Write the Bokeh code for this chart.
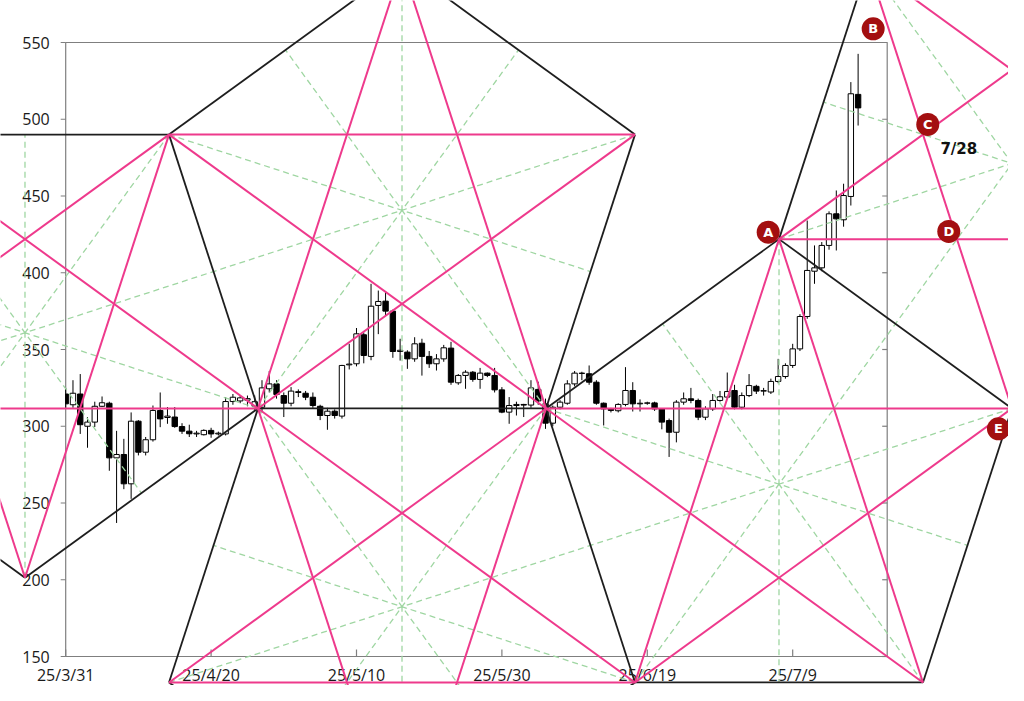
import numpy as np
from bokeh.plotting import figure
from bokeh.models import Range1d
from bokeh.core.properties import value
from bokeh.embed import file_html
from bokeh.resources import INLINE

# ---------------- candle data (day index from 2025-03-31) ----------------
opens = [321, 314, 321, 300, 302.7, 313, 315, 279.4, 281.6, 262.5,
         303.3, 283.1, 291.2, 310.3, 305.7, 306, 299.8, 296.8, 295, 294.5,
         297.3, 295, 295, 316.1, 316.5, 317, 313, 312.4, 324.4, 327.6,
         320, 315, 322.5, 321.5, 318.9, 313, 307, 309.8, 306.6, 340,
         340.7, 359.6, 345.5, 378.7, 381.5, 375, 348.7, 348.3, 343.9, 354.1,
         345.5, 340.7, 343.9, 350.9, 328.3, 333.1, 335.2, 330.5, 334.6, 333.1,
         323.7, 309.2, 313.5, 314.2, 313.8, 324, 314.6, 302, 312.4, 315,
         327.6, 334.6, 334.2, 328.7, 315, 311.3, 310.1, 314.2, 323.3, 314.6,
         315, 315.2, 311.3, 303.7, 296.1, 315.7, 317.9, 316.8, 305.9, 311.3,
         316.8, 319, 323.3, 312.4, 320, 326, 322.9, 322.3, 329.2, 332.4,
         339.6, 350.4, 371.5, 401, 403.2, 417.8, 438.4, 434.5, 449.7, 516.2]
highs = [325, 330, 334, 306, 316, 319.4, 316, 297, 291.8, 309,
         304, 293, 313.5, 322, 312.5, 312.5, 302, 301, 297, 298,
         299, 296.5, 319, 321, 320, 320, 320, 330, 336, 330,
         322, 325.5, 324, 323, 322, 314, 312, 311, 340, 353.7,
         364, 361, 392.8, 388.4, 388, 376, 357, 349.5, 358, 357,
         349, 347, 353, 355, 334, 336.5, 336, 338, 335, 338,
         325.5, 319, 316, 314.6, 330, 329, 318, 313.5, 317, 330,
         336, 335.5, 339.6, 330, 315.5, 312, 315, 338.5, 328.7, 317.5,
         316, 316, 311.5, 305, 317, 322, 325, 318, 313, 321,
         323, 335, 327, 322, 334, 327, 325, 331, 343.9, 341,
         353.7, 373, 434, 417.8, 420, 440, 453.6, 458, 524.2, 542.6]
lows = [312, 312, 295, 286, 299.5, 312.5, 271, 237, 259, 252.7,
        281, 281, 290, 299.4, 301.6, 299, 295, 293, 293, 294,
        292.5, 294, 294, 314, 315, 313, 310, 309, 322, 318,
        306, 313, 319, 317, 312, 304, 297.7, 305, 305, 337,
        339, 341, 343, 360, 372, 344.6, 342.8, 337.4, 342, 333,
        338, 336.3, 342, 327, 327, 324.4, 329, 324.4, 332, 322,
        308.5, 301.6, 307, 306, 312, 314, 298.3, 300, 311, 314,
        326, 330, 327, 314, 300.5, 309, 309, 313, 309.6, 309.6,
        314, 310, 298, 280, 289.5, 314, 315, 304, 304, 310,
        316, 318, 311, 311, 319, 321, 320, 321, 328, 331,
        338, 349, 370, 392.8, 401, 415, 414.5, 430, 443.8, 495.9]
closes = [314.6, 321.5, 301, 302.7, 313, 315.3, 279.4, 281.6, 262.5, 303.3,
          283.1, 291.2, 310.3, 304.8, 306.6, 299.8, 296.8, 295.1, 295.5, 297.3,
          295, 295.5, 316.1, 318.9, 318.5, 318, 316, 325, 327.6, 320.7,
          315, 322.9, 322, 318.9, 313.5, 307, 309.8, 307, 339.6, 340.5,
          360.2, 346.1, 378.2, 381.3, 375, 348.7, 349.5, 343.9, 353.7, 345.5,
          340.7, 343.9, 351.1, 328.7, 333.1, 335.2, 330.5, 334.6, 333.1, 323.7,
          309.2, 313.5, 314.2, 313.8, 325, 316.5, 302, 312.4, 315.7, 327.6,
          334.6, 334.4, 328.7, 315, 311.3, 310.3, 314.2, 323.3, 314.6, 315,
          315.2, 311.3, 302.7, 296.1, 315.7, 317.9, 316.8, 305.9, 311.3, 316.8,
          319.2, 322.6, 312.4, 320, 326.5, 322.9, 323.2, 329.2, 332.4, 339.6,
          350.4, 371.5, 401.5, 403.2, 417.8, 438.4, 435.1, 450.3, 516.6, 507.4]

# ---------------- axes ----------------
y_ticks = [150, 200, 250, 300, 350, 400, 450, 500, 550]
y_tick_labels = ["150", "200", "250", "300", "350", "400", "450", "500", "550"]
x_tick_days = [0, 20, 40, 60, 80, 100]
x_tick_labels = ["25/3/31", "25/4/20", "25/5/10", "25/5/30", "25/6/19", "25/7/9"]
box_x = [0, 113]
box_y = [150, 550]

# ---------------- pentagon overlay (day, price) ----------------
vertex_names = ["R", "S", "Q", "Q2", "T", "Qb", "Q2b", "Tb", "V", "A",
                "E", "T5", "U", "W", "B3", "L1", "L2"]
vertex_day = [26.45, 66.07, 14.21, 78.31, 46.26, 14.21, 78.31, 46.26, 117.92, 98.12,
              130.16, 110.36, 149.99, 162.21, -5.60, -37.65, -25.41]
vertex_price = [311.6, 311.6, 490.0, 490.0, 600.3, 133.1, 133.1, 22.8, 133.1, 421.9,
                311.6, 600.3, 600.3, 421.9, 201.3, 311.6, 490.0]
pentagons = [
    ["R", "S", "Q2", "T", "Q"],
    ["R", "Qb", "Tb", "Q2b", "S"],
    ["Q", "L2", "L1", "B3", "R"],
    ["S", "Q2b", "V", "E", "A"],
    ["A", "E", "W", "U", "T5"],
]

marker_letters = ["A", "B", "C", "D", "E"]
marker_day = [96.63, 111.07, 118.58, 121.47, 128.3]
marker_price = [426.4, 558.9, 496.6, 426.9, 298.3]
note_text = ["7/28"]
note_day = [122.85]
note_price = [480.8]

# ---------------- canvas geometry ----------------
W, H = 1008, 685
BOX_L, BOX_R, BOX_T, BOX_B = 65.2, 886.7, 42.0, 656.0   # pixel position of the plot box
ppx = (BOX_R - BOX_L) / (box_x[1] - box_x[0])
ppy = (BOX_B - BOX_T) / (box_y[1] - box_y[0])
x_start = box_x[0] - BOX_L / ppx
x_end = x_start + W / ppx
y_end = box_y[1] + BOX_T / ppy
y_start = y_end - H / ppy

p = figure(width=W, height=H, x_range=Range1d(x_start, x_end), y_range=Range1d(y_start, y_end),
           output_backend="svg", toolbar_location=None, min_border=0,
           x_axis_location=None, y_axis_location=None, outline_line_color=None,
           background_fill_color="white", border_fill_color="white")
p.grid.visible = False

FRAME = "#7f7f7f"
# plot box
p.quad(left=[box_x[0]], right=[box_x[1]], bottom=[box_y[0]], top=[box_y[1]],
       fill_color=None, line_color=FRAME, line_width=1.2)
# tick marks
tlx = 5 / ppx
tly = 7 / ppy
p.segment(x0=[box_x[0] - tlx] * len(y_ticks), y0=y_ticks, x1=[box_x[0]] * len(y_ticks), y1=y_ticks,
          line_color=FRAME, line_width=1.2)
p.segment(x0=[box_x[1] - tlx] * len(y_ticks), y0=y_ticks, x1=[box_x[1]] * len(y_ticks), y1=y_ticks,
          line_color=FRAME, line_width=1.2)
p.segment(x0=x_tick_days, y0=[box_y[0]] * len(x_tick_days), x1=x_tick_days,
          y1=[box_y[0] + tly] * len(x_tick_days), line_color=FRAME, line_width=1.2)

# tick labels
p.text(x=[box_x[0]] * len(y_ticks), y=y_ticks, text=y_tick_labels, x_offset=-16,
       text_align="right", text_baseline="middle", text_font=value("Open Sans"),
       text_font_size="16px", text_color="#1a1a1a")
p.text(x=x_tick_days, y=[box_y[0]] * len(x_tick_days), text=x_tick_labels, y_offset=18,
       text_align="center", text_baseline="middle", text_font=value("Open Sans"),
       text_font_size="16px", text_color="#1a1a1a")

# candles
o = np.array(opens); h = np.array(highs); l = np.array(lows); c = np.array(closes)
d = np.arange(len(o))
up = c >= o
bw = 0.37
p.segment(x0=d, y0=l, x1=d, y1=h, line_color="black", line_width=1)
left = np.clip(d - bw, box_x[0], None)
p.quad(left=left[up], right=(d + bw)[up], bottom=o[up], top=c[up],
       fill_color="white", line_color="black", line_width=1)
p.quad(left=left[~up], right=(d + bw)[~up], bottom=c[~up], top=o[~up],
       fill_color="black", line_color="black", line_width=1)

# overlay geometry
idx = {n: i for i, n in enumerate(vertex_names)}
vd = np.array(vertex_day); vp = np.array(vertex_price)
edges = []
diags = []
axes_seg = []
for pg in pentagons:
    for k in range(5):
        e = tuple(sorted((pg[k], pg[(k + 1) % 5])))
        if e not in edges:
            edges.append(e)
        diags.append((pg[k], pg[(k + 2) % 5]))
        m1, m2 = pg[(k + 2) % 5], pg[(k + 3) % 5]
        axes_seg.append((vd[idx[pg[k]]], vp[idx[pg[k]]],
                         (vd[idx[m1]] + vd[idx[m2]]) / 2, (vp[idx[m1]] + vp[idx[m2]]) / 2))

ax = np.array(axes_seg)
p.segment(x0=ax[:, 0], y0=ax[:, 1], x1=ax[:, 2], y1=ax[:, 3],
          line_color="#9fd6a2", line_width=1.3, line_dash="6 4")
p.segment(x0=[vd[idx[a]] for a, b in edges], y0=[vp[idx[a]] for a, b in edges],
          x1=[vd[idx[b]] for a, b in edges], y1=[vp[idx[b]] for a, b in edges],
          line_color="#1e1e1e", line_width=1.8)
p.segment(x0=[vd[idx[a]] for a, b in diags], y0=[vp[idx[a]] for a, b in diags],
          x1=[vd[idx[b]] for a, b in diags], y1=[vp[idx[b]] for a, b in diags],
          line_color="#ee3a8c", line_width=2)

# markers
p.scatter(x=marker_day, y=marker_price, size=23, marker="circle",
          fill_color="#a30f10", line_color=None)
p.text(x=marker_day, y=marker_price, text=marker_letters, text_align="center",
       text_baseline="middle", text_font=value("DejaVu Sans"), text_font_style="bold",
       text_font_size="13px", text_color="white")
p.text(x=note_day, y=note_price, text=note_text, text_align="center",
       text_baseline="middle", text_font=value("DejaVu Sans"), text_font_style="bold",
       text_font_size="15px", text_color="#111111")

open("out.html", "w").write(file_html(p, INLINE))
